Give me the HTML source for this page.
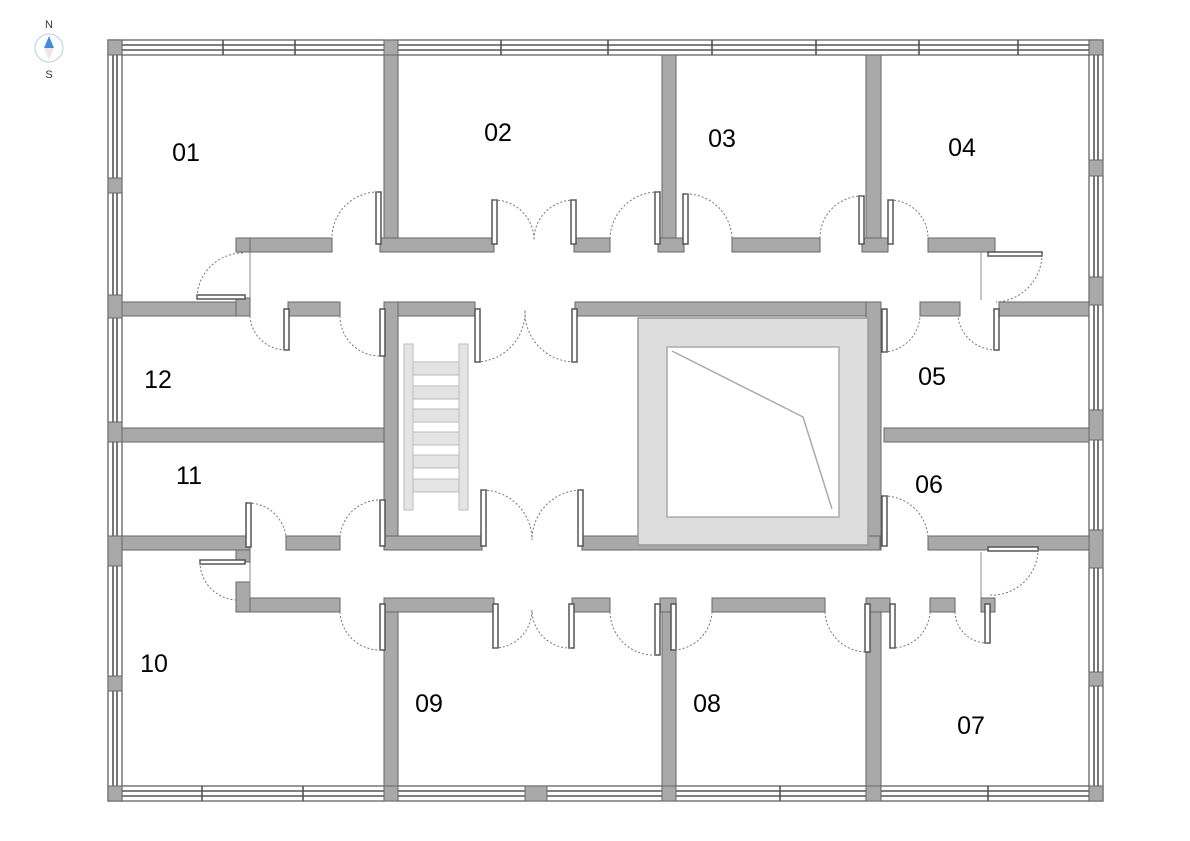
<!DOCTYPE html>
<html><head><meta charset="utf-8"><style>
html,body{margin:0;padding:0;background:#fff}
svg{display:block}
text{font-family:"Liberation Sans",sans-serif}
</style></head><body>
<svg width="1190" height="841" viewBox="0 0 1190 841" xmlns="http://www.w3.org/2000/svg">
<rect width="1190" height="841" fill="#fff"/>
<!-- compass -->
<text x="49" y="28" font-size="11" text-anchor="middle" fill="#333">N</text>
<text x="49" y="78" font-size="11" text-anchor="middle" fill="#333">S</text>
<circle cx="49" cy="48" r="14" fill="#fff" stroke="#b8cfe6" stroke-width="1"/>
<polygon points="49,36 44,48 54,48" fill="#3c8fd8"/>
<polygon points="44,48 54,48 49,60" fill="#f3e4e4"/>

<!-- outer window strips -->
<g fill="#fff" stroke="#555" stroke-width="1.2">
<rect x="108" y="40" width="995" height="15"/>
<rect x="108" y="786" width="995" height="15"/>
<rect x="108" y="40" width="14" height="761"/>
<rect x="1089" y="40" width="14" height="761"/>
</g>
<g stroke="#555" stroke-width="1.6">
<line x1="108" y1="45" x2="1103" y2="45"/><line x1="108" y1="50" x2="1103" y2="50"/>
<line x1="108" y1="791" x2="1103" y2="791"/><line x1="108" y1="796" x2="1103" y2="796"/>
<line x1="113" y1="40" x2="113" y2="801"/><line x1="117" y1="40" x2="117" y2="801"/>
<line x1="1094" y1="40" x2="1094" y2="801"/><line x1="1098" y1="40" x2="1098" y2="801"/>
</g>
<g stroke="#555" stroke-width="1.6">
<line x1="223" y1="40" x2="223" y2="55"/><line x1="295" y1="40" x2="295" y2="55"/>
<line x1="501" y1="40" x2="501" y2="55"/><line x1="608" y1="40" x2="608" y2="55"/>
<line x1="712" y1="40" x2="712" y2="55"/><line x1="816" y1="40" x2="816" y2="55"/>
<line x1="919" y1="40" x2="919" y2="55"/><line x1="1018" y1="40" x2="1018" y2="55"/>
<line x1="202" y1="786" x2="202" y2="801"/><line x1="303" y1="786" x2="303" y2="801"/>
<line x1="780" y1="786" x2="780" y2="801"/><line x1="988" y1="786" x2="988" y2="801"/>
</g>
<g fill="#a9a9a9" stroke="#666" stroke-width="1">
<rect x="108" y="40" width="14" height="15"/><rect x="1089" y="40" width="14" height="15"/>
<rect x="108" y="786" width="14" height="15"/><rect x="1089" y="786" width="14" height="15"/>
<rect x="384" y="40" width="14" height="15"/>
<rect x="384" y="786" width="14" height="15"/><rect x="525" y="786" width="22" height="15"/>
<rect x="662" y="786" width="14" height="15"/><rect x="866" y="786" width="15" height="15"/>
<rect x="108" y="178" width="14" height="15"/><rect x="108" y="295" width="14" height="23"/>
<rect x="108" y="422" width="14" height="20"/><rect x="108" y="536" width="14" height="30"/>
<rect x="108" y="676" width="14" height="15"/>
<rect x="1089" y="160" width="14" height="16"/><rect x="1089" y="277" width="14" height="28"/>
<rect x="1089" y="410" width="14" height="30"/><rect x="1089" y="530" width="14" height="38"/>
<rect x="1089" y="672" width="14" height="14"/>

<rect x="384" y="55" width="14" height="183"/>
<rect x="662" y="55" width="14" height="183"/>
<rect x="866" y="55" width="15" height="183"/>
<rect x="384" y="612" width="14" height="174"/>
<rect x="662" y="612" width="14" height="174"/>
<rect x="866" y="612" width="15" height="174"/>
<rect x="236" y="238" width="96" height="14"/>
<rect x="380" y="238" width="114" height="14"/>
<rect x="574" y="238" width="36" height="14"/>
<rect x="658" y="238" width="26" height="14"/>
<rect x="732" y="238" width="88" height="14"/>
<rect x="862" y="238" width="26" height="14"/>
<rect x="928" y="238" width="67" height="14"/>
<rect x="236" y="238" width="14" height="14"/>
<rect x="122" y="302" width="128" height="14"/>
<rect x="288" y="302" width="52" height="14"/>
<rect x="384" y="302" width="91" height="14"/>
<rect x="575" y="302" width="305" height="14"/>
<rect x="920" y="302" width="40" height="14"/>
<rect x="999" y="302" width="90" height="14"/>
<rect x="384" y="302" width="14" height="248"/>
<rect x="122" y="428" width="262" height="14"/>
<rect x="866" y="302" width="15" height="248"/>
<rect x="884" y="428" width="205" height="14"/>
<rect x="122" y="536" width="128" height="14"/>
<rect x="286" y="536" width="54" height="14"/>
<rect x="384" y="536" width="98" height="14"/>
<rect x="582" y="536" width="298" height="14"/>
<rect x="928" y="536" width="161" height="14"/>
<rect x="236" y="598" width="104" height="14"/>
<rect x="384" y="598" width="110" height="14"/>
<rect x="572" y="598" width="38" height="14"/>
<rect x="660" y="598" width="16" height="14"/>
<rect x="712" y="598" width="113" height="14"/>
<rect x="866" y="598" width="24" height="14"/>
<rect x="930" y="598" width="25" height="14"/>
<rect x="981" y="598" width="14" height="14"/>
<rect x="236" y="550" width="14" height="12"/>
<rect x="236" y="582" width="14" height="30"/>
<rect x="236" y="298" width="14" height="18"/>
</g>
<g stroke="#888" stroke-width="1">
<line x1="250" y1="252" x2="250" y2="298"/>
<line x1="981" y1="252" x2="981" y2="300"/>
<line x1="250" y1="562" x2="250" y2="598"/>
<line x1="981" y1="552" x2="981" y2="598"/>
</g>

<rect x="638" y="318" width="230" height="227" fill="#ddd" stroke="#999" stroke-width="1.5"/>
<rect x="667" y="347" width="172" height="170" fill="#fff" stroke="#aaa" stroke-width="1.5"/>
<polyline points="672,351 803,417 832,509" fill="none" stroke="#aaa" stroke-width="1.5"/>

<g fill="#e4e4e4" stroke="#bbb" stroke-width="1">
<rect x="404" y="344" width="9" height="166"/>
<rect x="459" y="344" width="9" height="166"/>
<rect x="413" y="362" width="46" height="13"/>
<rect x="413" y="386" width="46" height="13"/>
<rect x="413" y="409" width="46" height="13"/>
<rect x="413" y="432" width="46" height="13"/>
<rect x="413" y="455" width="46" height="13"/>
<rect x="413" y="479" width="46" height="13"/>
</g>

<g fill="#fff" stroke="#555" stroke-width="1.5">
<rect x="376" y="192" width="5" height="52"/>
<rect x="492" y="200" width="5" height="44"/><rect x="571" y="200" width="5" height="44"/>
<rect x="655" y="192" width="5" height="52"/>
<rect x="683" y="194" width="5" height="50"/>
<rect x="859" y="196" width="5" height="48"/>
<rect x="888" y="200" width="5" height="44"/>
<rect x="197" y="295" width="48" height="4"/>
<rect x="988" y="252" width="54" height="4"/>
<rect x="284" y="309" width="5" height="41"/>
<rect x="380" y="309" width="5" height="47"/>
<rect x="475" y="309" width="5" height="53"/><rect x="572" y="309" width="5" height="53"/>
<rect x="882" y="309" width="5" height="43"/>
<rect x="994" y="309" width="5" height="41"/>
<rect x="246" y="503" width="5" height="44"/>
<rect x="380" y="500" width="5" height="46"/>
<rect x="481" y="490" width="5" height="56"/><rect x="578" y="490" width="5" height="56"/>
<rect x="882" y="496" width="5" height="50"/>
<rect x="200" y="560" width="45" height="4"/>
<rect x="988" y="547" width="50" height="4"/>
<rect x="380" y="604" width="5" height="46"/>
<rect x="493" y="604" width="5" height="44"/><rect x="569" y="604" width="5" height="44"/>
<rect x="655" y="604" width="5" height="51"/>
<rect x="671" y="604" width="5" height="46"/>
<rect x="865" y="604" width="5" height="48"/>
<rect x="890" y="604" width="5" height="44"/>
<rect x="985" y="604" width="5" height="39"/>
</g>
<g fill="none" stroke="#777" stroke-width="1" stroke-dasharray="2,2">
<path d="M378 192 A46 46 0 0 0 332 238"/>
<path d="M494 200 A40 40 0 0 1 534 240"/><path d="M574 200 A40 40 0 0 0 534 240"/>
<path d="M658 192 A48 48 0 0 0 610 238"/>
<path d="M686 194 A46 46 0 0 1 732 238"/>
<path d="M862 196 A42 42 0 0 0 820 238"/>
<path d="M890 200 A38 38 0 0 1 928 238"/>
<path d="M197 297 A46 46 0 0 1 243 253"/>
<path d="M1042 254 A48 48 0 0 1 996 302"/>
<path d="M250 316 A36 36 0 0 0 286 350"/>
<path d="M340 316 A40 40 0 0 0 382 356"/>
<path d="M477 362 A50 50 0 0 0 525 310"/><path d="M574 362 A50 50 0 0 1 525 310"/>
<path d="M884 352 A38 38 0 0 0 920 316"/>
<path d="M996 350 A38 38 0 0 1 958 316"/>
<path d="M248 503 A38 38 0 0 1 286 538"/>
<path d="M382 500 A40 40 0 0 0 340 538"/>
<path d="M483 490 A50 50 0 0 1 532 540"/><path d="M580 490 A50 50 0 0 0 532 540"/>
<path d="M884 496 A44 44 0 0 1 928 538"/>
<path d="M200 562 A38 38 0 0 0 238 600"/>
<path d="M1038 549 A46 46 0 0 1 990 595"/>
<path d="M340 612 A40 40 0 0 0 382 650"/>
<path d="M495 648 A38 38 0 0 0 532 610"/><path d="M571 648 A38 38 0 0 1 532 610"/>
<path d="M610 612 A44 44 0 0 0 657 655"/>
<path d="M712 612 A40 40 0 0 1 673 650"/>
<path d="M825 612 A42 42 0 0 0 867 652"/>
<path d="M930 612 A38 38 0 0 1 892 648"/>
<path d="M955 612 A32 32 0 0 0 987 643"/>
</g>

<g font-size="25" fill="#000" text-anchor="middle">
<text x="186" y="161">01</text>
<text x="498" y="141">02</text>
<text x="722" y="147">03</text>
<text x="962" y="156">04</text>
<text x="932" y="385">05</text>
<text x="929" y="493">06</text>
<text x="971" y="734">07</text>
<text x="707" y="712">08</text>
<text x="429" y="712">09</text>
<text x="154" y="672">10</text>
<text x="189" y="484">11</text>
<text x="158" y="388">12</text>
</g>
</svg>
</body></html>
